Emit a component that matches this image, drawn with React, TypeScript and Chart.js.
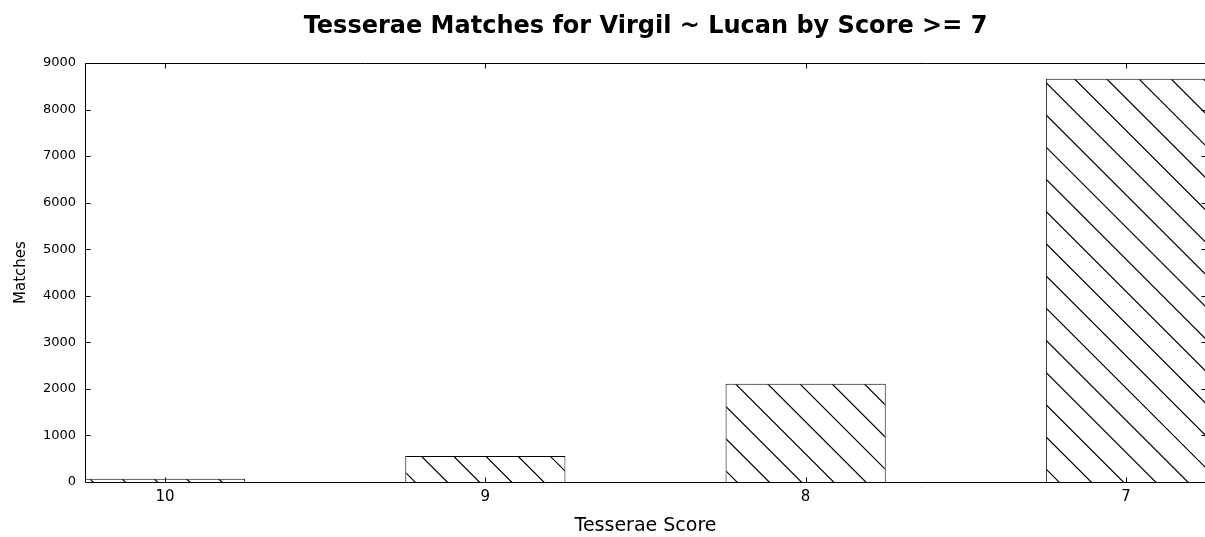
import React, { useEffect, useRef } from 'react';
import { Chart, registerables } from 'chart.js';

Chart.register(...registerables);

const categories: string[] = ['10', '9', '8', '7'];
const matches: number[] = [70, 560, 2110, 8660];
const yTickValues: number[] = [0, 1000, 2000, 3000, 4000, 5000, 6000, 7000, 8000, 9000];

const TITLE = 'Tesserae Matches for Virgil ~ Lucan by Score >= 7';
const X_TITLE = 'Tesserae Score';
const Y_TITLE = 'Matches';
const FONT = "'DejaVu Sans', sans-serif";

const CANVAS_W = 1215;
const CANVAS_H = 537;

function makeHatch(ctx: CanvasRenderingContext2D): CanvasPattern | string {
  const p = 32.2;
  const n = 10;
  const size = Math.round(p * n);
  const offset = 29.6;
  const c = document.createElement('canvas');
  c.width = size;
  c.height = size;
  const g = c.getContext('2d');
  if (!g) return '#fff';
  g.fillStyle = '#ffffff';
  g.fillRect(0, 0, size, size);
  g.strokeStyle = '#000000';
  g.lineWidth = 1.2;
  g.beginPath();
  for (let k = -n - 2; k <= n + 2; k++) {
    const c0 = offset + k * p;
    g.moveTo(c0 - p, -p);
    g.lineTo(c0 + size + p, size + p);
  }
  g.stroke();
  return ctx.createPattern(c, 'repeat') || '#fff';
}

const framePlugin = {
  id: 'frameTicks',
  afterDatasetsDraw(chart: any) {
    const { ctx, chartArea } = chart;
    const { left, right, top, bottom } = chartArea;
    const xs = chart.scales.x;
    const ys = chart.scales.y;
    ctx.save();
    ctx.strokeStyle = '#000';
    ctx.lineWidth = 1;
    const L = Math.round(left) + 0.5;
    const R = Math.round(right) + 0.5;
    const T = Math.round(top) + 0.5;
    const B = Math.round(bottom) + 0.5;
    ctx.beginPath();
    ctx.rect(L, T, R - L, B - T);
    ctx.stroke();
    const tl = 5;
    ctx.beginPath();
    yTickValues.forEach((v) => {
      const y = Math.round(ys.getPixelForValue(v)) + 0.5;
      ctx.moveTo(L, y);
      ctx.lineTo(L + tl, y);
      ctx.moveTo(R, y);
      ctx.lineTo(R - tl, y);
    });
    categories.forEach((_, i) => {
      const x = Math.round(xs.getPixelForValue(i)) + 0.5;
      ctx.moveTo(x, B);
      ctx.lineTo(x, B - tl);
      ctx.moveTo(x, T);
      ctx.lineTo(x, T + tl);
    });
    ctx.stroke();
    ctx.restore();
  },
  afterDraw(chart: any) {
    const { ctx, chartArea } = chart;
    ctx.save();
    ctx.fillStyle = '#000';
    ctx.font = `bold 24px ${FONT}`;
    ctx.textAlign = 'center';
    ctx.textBaseline = 'alphabetic';
    ctx.fillText(TITLE, (chartArea.left + chartArea.right) / 2, 33);
    ctx.restore();
  },
};

export default function App() {
  const ref = useRef<HTMLCanvasElement | null>(null);

  useEffect(() => {
    const canvas = ref.current;
    if (!canvas) return;
    const ctx = canvas.getContext('2d');
    if (!ctx) return;
    const hatch = makeHatch(ctx);

    const chart = new Chart(ctx, {
      type: 'bar',
      data: {
        datasets: [
          {
            label: 'Matches',
            data: matches.map((v, i) => ({ x: i, y: v })),
            backgroundColor: hatch as any,
            borderColor: '#000',
            borderWidth: 1,
            barPercentage: 0.5,
            categoryPercentage: 1,
          },
        ],
      },
      options: {
        animation: false,
        responsive: false,
        maintainAspectRatio: false,
        devicePixelRatio: 1,
        layout: { padding: { left: 0, right: CANVAS_W - 1206, top: 63, bottom: 0 } },
        plugins: {
          legend: { display: false },
          tooltip: { enabled: false },
          title: { display: false },
        },
        scales: {
          x: {
            type: 'linear',
            offset: false,
            min: -0.25,
            max: 3.25,
            grid: { display: false, drawTicks: false },
            border: { display: false },
            afterBuildTicks: (scale: any) => {
              scale.ticks = categories.map((_, i) => ({ value: i }));
            },
            afterFit: (scale: any) => {
              scale.height = CANVAS_H - 482;
            },
            ticks: {
              autoSkip: false,
              maxRotation: 0,
              padding: 6,
              color: '#000',
              font: { family: FONT, size: 15 },
              callback: (v: any) => categories[Math.round(Number(v))] ?? '',
            },
            title: {
              display: true,
              text: X_TITLE,
              color: '#000',
              font: { family: FONT, size: 19 },
              padding: { top: 0, bottom: 0 },
            },
          },
          y: {
            min: 0,
            max: 9000,
            grid: { display: false, drawTicks: false },
            border: { display: false },
            afterBuildTicks: (scale: any) => {
              scale.ticks = yTickValues.map((v) => ({ value: v }));
            },
            afterFit: (scale: any) => {
              scale.width = 85;
            },
            ticks: {
              padding: 9,
              color: '#000',
              font: { family: FONT, size: 13 },
              callback: (v: any) => String(v),
            },
            title: {
              display: true,
              text: Y_TITLE,
              color: '#000',
              font: { family: FONT, size: 15 },
              padding: { top: 12.5, bottom: 0 },
            },
          },
        },
      },
      plugins: [framePlugin],
    });

    return () => {
      chart.destroy();
    };
  }, []);

  return (
    <div
      style={{
        position: 'absolute',
        left: 0,
        top: 0,
        width: 1205,
        height: CANVAS_H,
        overflow: 'hidden',
        background: '#fff',
      }}
    >
      <canvas
        ref={ref}
        width={CANVAS_W}
        height={CANVAS_H}
        style={{ display: 'block', width: CANVAS_W, height: CANVAS_H }}
      />
    </div>
  );
}
